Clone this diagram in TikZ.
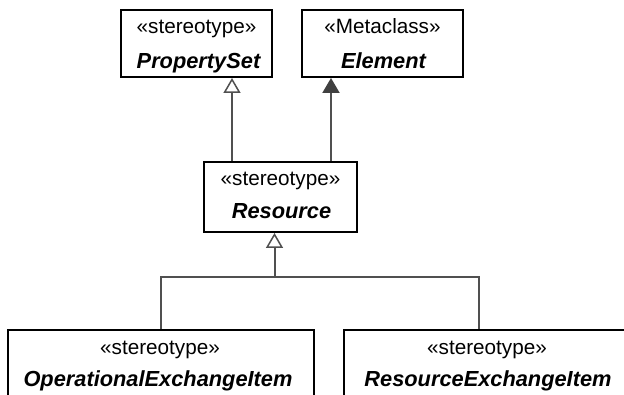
\documentclass[tikz,border=0pt]{standalone}
\usepackage{fontspec}
\setmainfont{Liberation Sans}
\usetikzlibrary{arrows.meta}
\definecolor{conn}{HTML}{505050}
\definecolor{tipfill}{HTML}{404040}
\tikzset{
  umlbox/.style={draw=black, line width=2pt, fill=white, rectangle, inner sep=0pt},
  stereo/.style={anchor=base, inner sep=0pt, font=\fontsize{20.7}{24}\selectfont},
  cname/.style={anchor=base, inner sep=0pt, font=\fontsize{21.8}{26}\selectfont\bfseries\itshape},
  conline/.style={draw=conn, line width=2pt},
  inh/.style={conline, -{Triangle[open, length=15pt, width=17pt, line width=1.5pt, fill=white]}},
  assoc/.style={conline, -{Triangle[length=15pt, width=17pt, color=tipfill]}}
}
\begin{document}
\begin{tikzpicture}[x=1pt, y=-1pt]
\clip (0,0) rectangle (624,395);
\fill[white] (0,0) rectangle (624,395);
% boxes
\node[umlbox, minimum width=151pt, minimum height=67pt] (ps) at (196.5,43.5) {};
\node[umlbox, minimum width=161pt, minimum height=67pt] (el) at (382.5,43.5) {};
\node[umlbox, minimum width=153pt, minimum height=70pt] (res) at (280.5,197) {};
\node[umlbox, minimum width=306pt, minimum height=100pt] (oei) at (161,380) {};
\node[umlbox, minimum width=286pt, minimum height=100pt] (rei) at (487,380) {};
% texts
\node[stereo] (pst) at (196.5,34) {«stereotype»};
\node[cname] (psn) at (198.5,69) {PropertySet};
\node[stereo] (elt) at (382.5,34) {«Metaclass»};
\node[cname] (eln) at (383.5,69) {Element};
\node[stereo] (rest) at (280.5,186) {«stereotype»};
\node[cname] (resn) at (281.5,219) {Resource};
\node[stereo] (oeit) at (160,355) {«stereotype»};
\node[cname] (oein) at (158,386) {OperationalExchangeItem};
\node[stereo] (reit) at (487,355) {«stereotype»};
\node[cname] (rein) at (488,386) {ResourceExchangeItem};
% connectors
\draw[inh] ([xshift=29pt]res.north west) -- ([xshift=29pt]res.north west |- ps.south);
\draw[assoc] ([xshift=-27pt]res.north east) -- ([xshift=-27pt]res.north east |- el.south);
\coordinate (jn) at (274.5,277);
\draw[conline] ([xshift=-8pt]rei.north) |- (jn);
\draw[inh] (oei.north) |- (jn) -- (jn |- res.south);
\end{tikzpicture}
\end{document}
